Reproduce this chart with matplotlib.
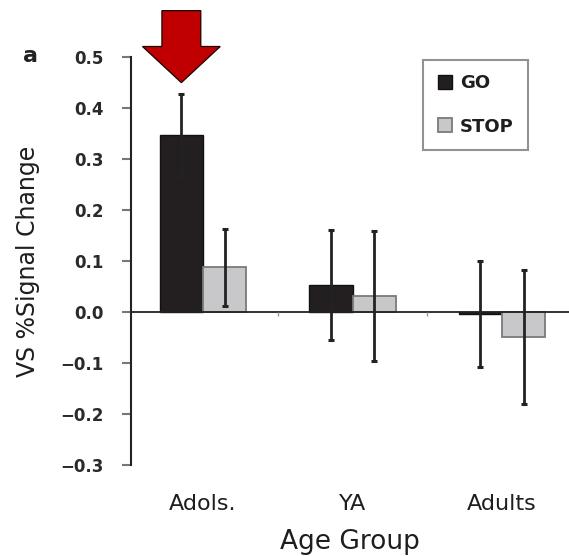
import numpy as np
import matplotlib
matplotlib.use("Agg")
import matplotlib.pyplot as plt
from matplotlib.patches import FancyArrow

# ---- data ----
groups = ["Adols.", "YA", "Adults"]
conditions = ["GO", "STOP"]
go_means = [0.348, 0.054, -0.004]
go_errs = [0.080, 0.108, 0.104]
stop_means = [0.088, 0.032, -0.049]
stop_errs = [0.075, 0.128, 0.132]
yticks = [-0.3, -0.2, -0.1, 0.0, 0.1, 0.2, 0.3, 0.4, 0.5]

plt.rcParams['font.family'] = ['DejaVu Sans']
fig = plt.figure(figsize=(5.69, 5.56), dpi=100)
ax = fig.add_axes([0.2302, 0.1637, 0.7698, 0.7329])

x = np.arange(len(groups))
w = 0.29
go_col = '#231f20'
stop_col = '#c8c8ca'

ax.bar(x - w / 2, go_means, w, color=go_col, edgecolor='#111111', linewidth=1.0,
       label=conditions[0], zorder=2)
ax.bar(x + w / 2, stop_means, w, color=stop_col, edgecolor='#7a7a7a', linewidth=1.3,
       label=conditions[1], zorder=2)
ax.errorbar(x - w / 2, go_means, yerr=go_errs, fmt='none', ecolor='#222222',
            elinewidth=2.0, capsize=2.5, capthick=2.2, zorder=3)
ax.errorbar(x + w / 2, stop_means, yerr=stop_errs, fmt='none', ecolor='#222222',
            elinewidth=2.0, capsize=2.5, capthick=2.2, zorder=3)

ax.axhline(0, color='#222222', lw=1.3, zorder=2.5)
# small separator marks on the zero line between groups
ax.plot(x[:-1] + 0.5, np.zeros(len(x) - 1), linestyle='none', marker=3,
        markersize=3, color='#999999', mew=1.0, zorder=2.5)

ax.set_xlim(-0.482, 2.448)
ax.set_ylim(-0.3, 0.5)
ax.set_yticks(yticks)
ax.set_yticklabels([f"{v:.1f}".replace('-', '\u2212') for v in yticks],
                   fontsize=12, fontweight='bold', color='#2a2a2a')
ax.tick_params(axis='y', length=6.5, width=1.5, color='#777777', pad=13)
ax.set_xticks(x)
ax.set_xticklabels(groups, fontsize=16, color='#1e1e1e')
ax.tick_params(axis='x', length=0, pad=21)

for s in ['top', 'right', 'bottom']:
    ax.spines[s].set_visible(False)
ax.spines['left'].set_color('#222222')
ax.spines['left'].set_linewidth(1.5)

ax.set_xlabel("Age Group", fontsize=19, color='#1e1e1e', labelpad=11)
ax.set_ylabel("VS %Signal Change", fontsize=17, color='#1e1e1e', labelpad=15)

leg = ax.legend(loc='upper left', bbox_to_anchor=(0.667, 0.994), borderaxespad=0,
                frameon=True, fancybox=False, edgecolor='#777777',
                prop={'size': 13, 'weight': 'bold'}, handlelength=0.8,
                handleheight=0.8, handletextpad=0.45, labelspacing=1.4,
                borderpad=0.8)
leg.get_frame().set_linewidth(1.5)
for t in leg.get_texts():
    t.set_color('#1e1e1e')

# red highlight arrow above the adolescent GO bar
arrow = FancyArrow(x[0] - w / 2, 0.592, 0, 0.4506 - 0.592, width=0.26,
                   head_width=0.52, head_length=0.071, length_includes_head=True,
                   facecolor='#c00000', edgecolor='#1a0000', linewidth=0.9,
                   clip_on=False, zorder=5)
ax.add_patch(arrow)

fig.text(31 / 569, 1 - 56 / 556, "a", fontsize=16, fontweight='bold',
         ha='center', va='center', color='#222222')

fig.savefig("out.png", dpi=100)
